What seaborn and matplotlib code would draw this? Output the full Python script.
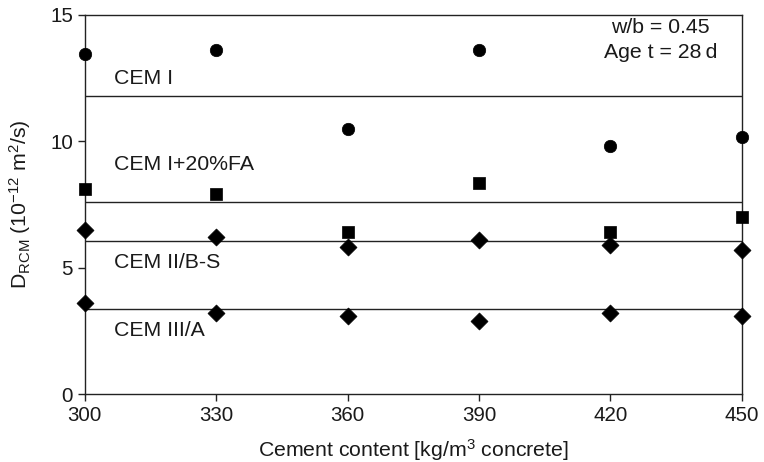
import numpy as np
import pandas as pd
import matplotlib
matplotlib.use('Agg')
import matplotlib.pyplot as plt
import seaborn as sns

cement = [300, 330, 360, 390, 420, 450]
cem_i = [13.45, 13.6, 10.5, 13.6, 9.8, 10.15]
cem_i_fa = [8.1, 7.9, 6.42, 8.34, 6.42, 6.99]
cem_ii_bs = [6.5, 6.2, 5.8, 6.09, 5.9, 5.7]
cem_iii_a = [3.59, 3.19, 3.09, 2.9, 3.22, 3.09]

series_names = ['CEM I', 'CEM I+20%FA', 'CEM II/B-S', 'CEM III/A']
mean_levels = [11.77, 7.58, 6.07, 3.38]
label_y = [12.5, 9.06, 5.2, 2.53]

sns.set_theme(style='white')
plt.rcParams['font.family'] = ['Liberation Sans', 'DejaVu Sans']
plt.rcParams['mathtext.default'] = 'regular'

df = pd.DataFrame({
    'cement': cement * 4,
    'D': cem_i + cem_i_fa + cem_ii_bs + cem_iii_a,
    'mix': [n for n in series_names for _ in cement],
})

fig, ax = plt.subplots(figsize=(7.64, 4.62), dpi=100)
fig.subplots_adjust(left=0.111, right=0.971, bottom=0.147, top=0.968)

markers = {'CEM I': ('o', 80), 'CEM I+20%FA': ('s', 70),
           'CEM II/B-S': ('D', 75), 'CEM III/A': ('D', 75)}
for name in series_names:
    m, s = markers[name]
    sns.scatterplot(data=df[df['mix'] == name], x='cement', y='D', marker=m, s=s,
                    color='black', edgecolor='black', linewidth=0.5,
                    clip_on=False, zorder=5, ax=ax)

for lvl in mean_levels:
    ax.axhline(lvl, color='#222222', linewidth=1.0, zorder=2)

fs = 15.3
for name, ly in zip(series_names, label_y):
    ax.text(306.6, ly, name, fontsize=fs, va='center', ha='left', color='#1a1a1a')

ax.text(431.5, 14.5, 'w/b = 0.45', fontsize=fs, ha='center', va='center', color='#1a1a1a')
ax.text(431.5, 13.5, 'Age t = 28\u2009d', fontsize=fs, ha='center', va='center',
        color='#1a1a1a', family=['Liberation Sans', 'DejaVu Sans'])

ax.set_xlim(300, 450)
ax.set_ylim(0, 15)
ax.set_xticks(cement)
ax.set_yticks([0, 5, 10, 15])
ax.tick_params(direction='out', length=5, width=1, colors='#222222', labelsize=14.8,
               bottom=True, left=True, labelcolor='#1a1a1a')
for sp in ax.spines.values():
    sp.set_color('#222222')
    sp.set_linewidth(1.0)

ax.set_xlabel('Cement content [kg/m$^3$ concrete]', fontsize=fs, color='#1a1a1a', labelpad=9)
ax.set_ylabel('D$_{RCM}$ (10$^{\u221212}$ m$^2$/s)', fontsize=fs, color='#1a1a1a', labelpad=12)

fig.savefig('out.png', dpi=100)
